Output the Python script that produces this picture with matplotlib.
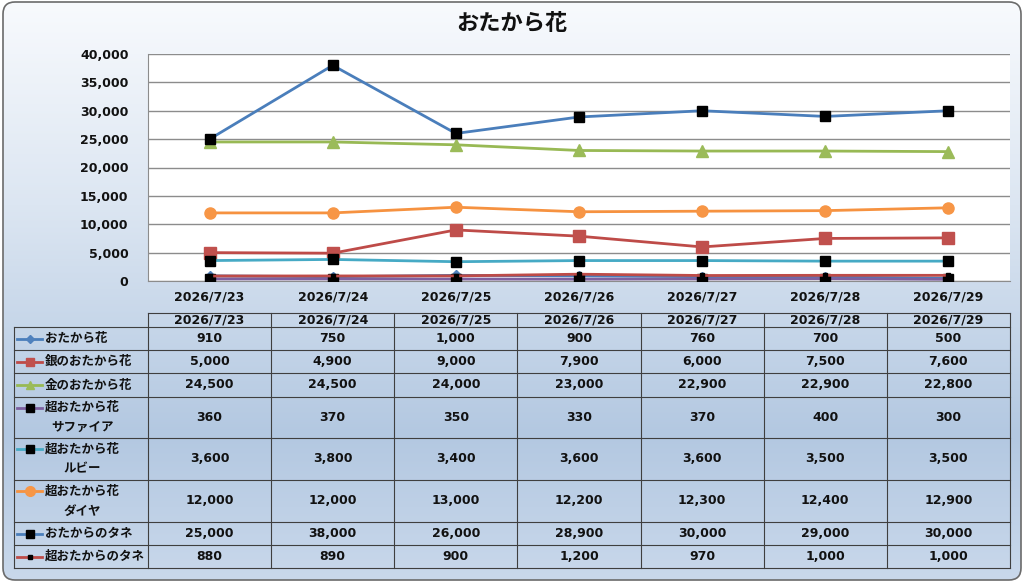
import numpy as np
import matplotlib.pyplot as plt
from matplotlib.patches import FancyBboxPatch
from matplotlib.colors import LinearSegmentedColormap
from matplotlib.ticker import FuncFormatter, MultipleLocator

# wide digits from DejaVu Sans, kana/kanji fall back to Noto Sans CJK JP
plt.rcParams['font.family'] = ['DejaVu Sans', 'Noto Sans CJK JP']
plt.rcParams['font.weight'] = 'bold'

######## DATA ########

title = "おたから花"
dates = ["2026/7/23", "2026/7/24", "2026/7/25", "2026/7/26",
         "2026/7/27", "2026/7/28", "2026/7/29"]

series_names = [
    "おたから花",
    "銀のおたから花",
    "金のおたから花",
    "超おたから花\nサファイア",
    "超おたから花\nルビー",
    "超おたから花\nダイヤ",
    "おたからのタネ",
    "超おたからのタネ",
]

otakara = [910, 750, 1000, 900, 760, 700, 500]
gin = [5000, 4900, 9000, 7900, 6000, 7500, 7600]
kin = [24500, 24500, 24000, 23000, 22900, 22900, 22800]
sapphire = [360, 370, 350, 330, 370, 400, 300]
ruby = [3600, 3800, 3400, 3600, 3600, 3500, 3500]
diamond = [12000, 12000, 13000, 12200, 12300, 12400, 12900]
tane = [25000, 38000, 26000, 28900, 30000, 29000, 30000]
super_tane = [880, 890, 900, 1200, 970, 1000, 1000]

values = [otakara, gin, kin, sapphire, ruby, diamond, tane, super_tane]

######## STYLE ########

line_colors = ["#4A7EBB", "#BE4B48", "#98B954", "#7D60A0",
               "#46AAC5", "#F69240", "#4A7EBB", "#BE4B48"]
markers = ["D", "s", "^", "s", "s", "o", "s", "s"]
marker_faces = ["#4F81BD", "#C0504D", "#9BBB59", "black",
                "black", "#F79646", "black", "black"]
marker_sizes = [5, 8, 8, 7, 7, 8, 7, 3.5]
key_marker_sizes = [4, 6, 6, 6, 6, 7, 6, 3]

W, H = 1024, 583
L, R, T, B = 148, 1010, 54, 281  # plot area in pixels

fig = plt.figure(figsize=(W / 100, H / 100), dpi=100)

######## BACKGROUND ########

bg = fig.add_axes([0, 0, 1, 1], zorder=0)
bg.set_xlim(0, W)
bg.set_ylim(H, 0)
bg.axis("off")

frame = FancyBboxPatch((3, 2), W - 6, H - 5, boxstyle="round,pad=0,rounding_size=12",
                       facecolor="none", edgecolor="#6B6B6B", linewidth=1.2, zorder=3)
bg.add_patch(frame)
cmap = LinearSegmentedColormap.from_list(
    "bgrad", [(0, "#F8FAFD"), (0.35, "#DCE6F2"), (0.75, "#B3C8E1"), (1, "#C9D8EB")])
grad = np.linspace(0, 1, 256).reshape(-1, 1)
im = bg.imshow(grad, cmap=cmap, aspect="auto", extent=(3, W - 3, H - 3, 2), zorder=1)
im.set_clip_path(frame)

bg.text(W / 2, 24, title, ha="center", va="center", fontsize=16, fontweight="bold",
        color="#111111")

######## LINE CHART ########

ax = fig.add_axes([L / W, 1 - B / H, (R - L) / W, (B - T) / H], zorder=1)
ax.set_facecolor("white")
x = np.arange(len(dates))
for i, vals in enumerate(values):
    ax.plot(x, vals, color=line_colors[i], linewidth=2, marker=markers[i],
            markersize=marker_sizes[i], markerfacecolor=marker_faces[i],
            markeredgecolor=marker_faces[i], zorder=3 + i)

ax.set_xlim(-0.5, len(dates) - 0.5)
ax.set_ylim(0, 40000)
ax.yaxis.set_major_locator(MultipleLocator(5000))
ax.yaxis.set_major_formatter(FuncFormatter(lambda v, p: f"{int(v):,}"))
ax.set_xticks(x)
ax.set_xticklabels(dates)
ax.grid(axis="y", color="#8C8C8C", linewidth=1)
ax.set_axisbelow(True)
ax.tick_params(axis="both", length=0, labelsize=9, colors="#111111")
ax.tick_params(axis="y", pad=14)
ax.tick_params(axis="x", pad=7)
for side in ["top", "right"]:
    ax.spines[side].set_visible(False)
for side in ["left", "bottom"]:
    ax.spines[side].set_color("#8C8C8C")

######## DATA TABLE ########

tab = fig.add_axes([0, 0, 1, 1], zorder=2)
tab.set_xlim(0, W)
tab.set_ylim(H, 0)
tab.axis("off")

row_edges = [313, 327, 350, 373, 397, 438, 480, 522, 545, 568]
col_w = (R - L) / len(dates)
col_edges = [L + k * col_w for k in range(len(dates) + 1)]
edge_color = "#3F3F3F"
lw = 0.8

# header row (dates)
tab.plot([L, R], [row_edges[0], row_edges[0]], color=edge_color, lw=lw)
for k in range(len(dates) + 1):
    tab.plot([col_edges[k], col_edges[k]], [row_edges[0], row_edges[-1]],
             color=edge_color, lw=lw)
for j, d in enumerate(dates):
    tab.text(L + (j + 0.5) * col_w, (row_edges[0] + row_edges[1]) / 2, d,
             ha="center", va="center", fontsize=9, color="#111111")

# body rows
label_left = 14
for r in range(1, len(row_edges)):
    tab.plot([label_left, R], [row_edges[r], row_edges[r]], color=edge_color, lw=lw)
tab.plot([label_left, label_left], [row_edges[1], row_edges[-1]], color=edge_color, lw=lw)

for i, name in enumerate(series_names):
    top, bot = row_edges[i + 1], row_edges[i + 2]
    yc = (top + bot) / 2
    two_line = "\n" in name
    key_y = top + 10.5 if two_line else yc
    tab.plot([17, 42], [key_y, key_y], color=line_colors[i], lw=2)
    tab.plot([29.5], [key_y], marker=markers[i], markersize=key_marker_sizes[i],
             markerfacecolor=marker_faces[i], markeredgecolor=marker_faces[i])
    tab.text(45, yc, name, ha="left", va="center", fontsize=9,
             multialignment="center", linespacing=1.7, color="#111111")
    for j, v in enumerate(values[i]):
        tab.text(L + (j + 0.5) * col_w, yc, f"{v:,}", ha="center", va="center",
                 fontsize=9, color="#111111")

fig.savefig("out.png", dpi=100)
